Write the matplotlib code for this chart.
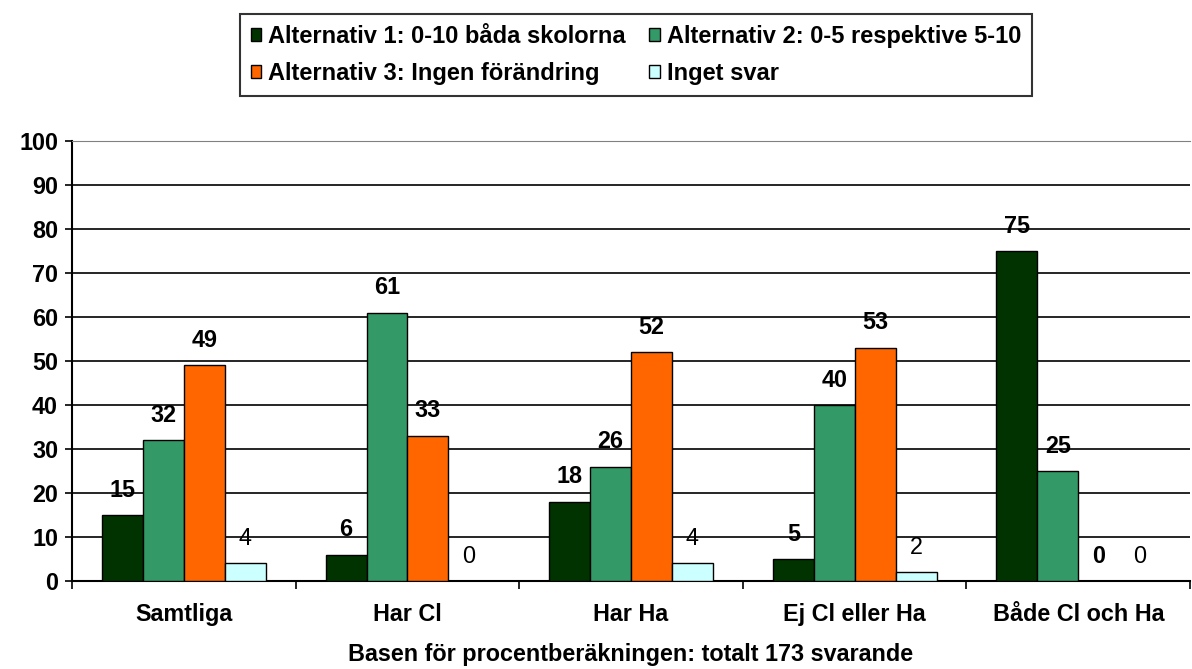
import numpy as np
import matplotlib
matplotlib.use("Agg")
import matplotlib.pyplot as plt

plt.rcParams['font.family'] = ['Liberation Sans', 'DejaVu Sans']

categories = ['Samtliga', 'Har Cl', 'Har Ha', 'Ej Cl eller Ha', 'Både Cl och Ha']
series_names = ['Alternativ 1: 0-10 båda skolorna',
                'Alternativ 2: 0-5 respektive 5-10',
                'Alternativ 3: Ingen förändring',
                'Inget svar']
alt1 = [15, 6, 18, 5, 75]
alt2 = [32, 61, 26, 40, 25]
alt3 = [49, 33, 52, 53, 0]
inget = [4, 0, 4, 2, 0]
colors = ['#003300', '#339966', '#FF6600', '#CCFFFF']
label_weights = ['bold', 'bold', 'bold', 'normal']

fs = 16.8

fig = plt.figure(figsize=(11.92, 6.69), dpi=100)
ax = fig.add_axes([0.0604, 0.1315, 0.938, 0.6575])

x = np.arange(len(categories))
w = 0.183
handles = []
for k, vals in enumerate([alt1, alt2, alt3, inget]):
    pos = x + (k - 1.5) * w
    b = ax.bar(pos, vals, w, color=colors[k], edgecolor='black', linewidth=1,
               label=series_names[k], zorder=3)
    handles.append(b)
    for p, v in zip(pos, vals):
        ax.annotate(str(v), (p, v), xytext=(0, 18), textcoords='offset points',
                    ha='center', va='center', fontsize=fs,
                    fontweight=label_weights[k], zorder=4)

ax.set_xlim(-0.5, len(categories) - 0.5)
ax.set_ylim(0, 100)
ax.set_yticks(range(0, 101, 10))
ax.yaxis.grid(True, color='black', linewidth=1.2, zorder=0)
ax.set_axisbelow(True)
ax.tick_params(axis='y', length=5, width=1.2, labelsize=fs, pad=5)
for t in ax.get_yticklabels():
    t.set_fontweight('bold')

ax.set_xticks(x)
ax.set_xticklabels(categories, fontsize=fs, fontweight='bold')
ax.set_xticks(np.arange(-0.5, len(categories)), minor=True)
ax.tick_params(axis='x', which='major', length=0, pad=16)
ax.tick_params(axis='x', which='minor', length=6, width=1.2)
ax.set_xlabel('Basen för procentberäkningen: totalt 173 svarande',
              fontsize=fs, fontweight='bold', labelpad=12)

ax.spines['top'].set_color('#808080')
ax.spines['right'].set_visible(False)
for s in ['left', 'bottom']:
    ax.spines[s].set_linewidth(1.5)

order = [0, 2, 1, 3]
leg = fig.legend([handles[i] for i in order], [series_names[i] for i in order],
                 loc='center', bbox_to_anchor=(0.5336, 0.918), ncol=2,
                 prop={'weight': 'bold', 'size': 17.0},
                 frameon=True, fancybox=False, edgecolor='black',
                 handlelength=0.45, handleheight=0.45, handletextpad=0.3,
                 columnspacing=1.0, borderpad=0.45, borderaxespad=0,
                 labelspacing=0.6)
leg.get_frame().set_linewidth(1.5)

fig.savefig('out.png', dpi=100)
